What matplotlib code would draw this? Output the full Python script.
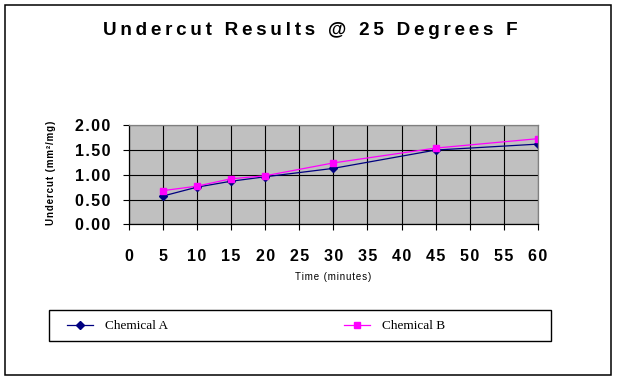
import matplotlib
matplotlib.use("Agg")
import matplotlib.pyplot as plt
from matplotlib.patches import Rectangle
from matplotlib.ticker import FuncFormatter, MultipleLocator

# Data
minutes = [5, 10, 15, 20, 30, 45, 60]
chem_a = [0.57, 0.75, 0.87, 0.96, 1.13, 1.50, 1.62]
chem_b = [0.68, 0.77, 0.92, 0.98, 1.24, 1.54, 1.73]
series_names = ["Chemical A", "Chemical B"]
title_text = "Undercut Results @ 25 Degrees F"
x_label = "Time (minutes)"
y_label = "Undercut (mm²/mg)"

W, H = 617, 382
SANS = ["Liberation Sans", "DejaVu Sans"]
SERIF = ["Liberation Serif", "DejaVu Serif"]


def spaced(text, sep="\u2009"):
    return sep.join(text)  # Mimic the wide letter spacing


fig = plt.figure(figsize=(W / 100, H / 100), dpi=100)
fig.patch.set_facecolor("white")

# Outer chart border
fig.patches.append(Rectangle((5 / W, 1 - 375 / H), 606 / W, 370 / H, transform=fig.transFigure,
                             fill=False, edgecolor="black", linewidth=1.1))

left, right, top, bottom = 128.7, 538, 125.3, 224.3
ax = fig.add_axes([left / W, 1 - bottom / H, (right - left) / W, (bottom - top) / H])
ax.set_facecolor("#C0C0C0")

ax.plot(minutes, chem_a, color="#000080", linewidth=0.9, marker="D", markersize=3.8, label=series_names[0])
ax.plot(minutes, chem_b, color="#FF00FF", linewidth=0.9, marker="s", markersize=4.5, label=series_names[1])

ax.set_xlim(0, 60)
ax.set_ylim(0, 2)
ax.xaxis.set_major_locator(MultipleLocator(5))
ax.yaxis.set_major_locator(MultipleLocator(0.5))
ax.xaxis.set_major_formatter(FuncFormatter(lambda v, p: spaced(f"{v:.0f}", "\u200a")))
ax.yaxis.set_major_formatter(FuncFormatter(lambda v, p: spaced(f"{v:.2f}", "\u200a")))
ax.grid(True, color="black", linewidth=0.8)
ax.set_axisbelow(True)

for side in ("left", "bottom"):
    ax.spines[side].set_color("black")
    ax.spines[side].set_linewidth(0.9)
for side in ("top", "right"):
    ax.spines[side].set_color("#808080")
    ax.spines[side].set_linewidth(0.9)

ax.tick_params(axis="x", direction="out", length=4.5, width=0.8, pad=13, labelsize=11.5)
ax.tick_params(axis="y", direction="out", length=4, width=0.8, pad=9, labelsize=11.5)
for lbl in ax.get_xticklabels() + ax.get_yticklabels():
    lbl.set_family(SANS)
    lbl.set_fontweight("bold")

fig.text(310.5 / W, 1 - 30.5 / H, spaced(title_text), ha="center", va="center",
         fontsize=13.6, fontweight="bold", family=SANS)
fig.text(333 / W, 1 - 277 / H, spaced(x_label, "\u200a"), ha="center", va="center",
         fontsize=7, family=SANS)
fig.text(51 / W, 1 - 173 / H, spaced(y_label, "\u200a"), ha="center", va="center", rotation=90,
         fontsize=7, fontweight="bold", family=SANS)

# Legend box and entries
fig.patches.append(Rectangle((49 / W, 1 - 341 / H), 502 / W, 31 / H, transform=fig.transFigure,
                             fill=False, edgecolor="black", linewidth=1.0))
handles, labels = ax.get_legend_handles_labels()
fig.legend(handles, labels, loc="center left", bbox_to_anchor=(66.7 / W, 1 - 326 / H),
           ncol=2, frameon=False, borderpad=0, borderaxespad=0, handlelength=2.0,
           handletextpad=0.9, columnspacing=13.3, prop={"family": SERIF, "size": 9.5})

fig.savefig("out.png", dpi=100)
plt.close(fig)
